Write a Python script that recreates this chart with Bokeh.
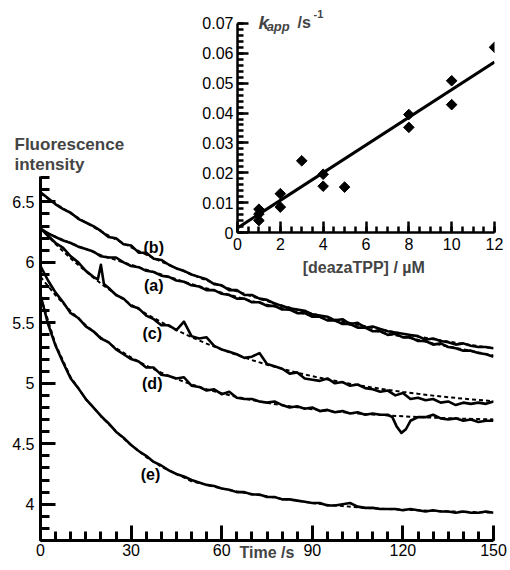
from bokeh.plotting import figure
from bokeh.models import Range1d, FixedTicker, NumeralTickFormatter, Label, GridBox
from bokeh.layouts import column
from bokeh.embed import file_html
from bokeh.resources import INLINE

FONT = "Liberation Sans"

# ---------------- main panel data ----------------
time_s = [0, 2.5, 5, 7.5, 10, 12.5, 15, 17.5, 20, 22.5,
          25, 27.5, 30, 32.5, 35, 37.5, 40, 42.5, 45, 47.5,
          50, 52.5, 55, 57.5, 60, 62.5, 65, 67.5, 70, 72.5,
          75, 77.5, 80, 82.5, 85, 87.5, 90, 92.5, 95, 97.5,
          100, 102.5, 105, 107.5, 110, 112.5, 115, 117.5, 120, 122.5,
          125, 127.5, 130, 132.5, 135, 137.5, 140, 142.5, 145, 147.5,
          150]

trace_a = [6.28, 6.24, 6.21, 6.18, 6.16, 6.13, 6.11, 6.09, 6.05, 6.04,
           6.04, 6.00, 5.97, 5.96, 5.93, 5.92, 5.89, 5.88, 5.85, 5.84,
           5.81, 5.80, 5.77, 5.77, 5.74, 5.73, 5.70, 5.70, 5.67, 5.67,
           5.64, 5.64, 5.61, 5.61, 5.58, 5.58, 5.55, 5.55, 5.52, 5.52,
           5.49, 5.49, 5.46, 5.46, 5.43, 5.43, 5.40, 5.41, 5.38, 5.38,
           5.35, 5.35, 5.32, 5.33, 5.30, 5.29, 5.27, 5.27, 5.25, 5.24,
           5.22]

trace_b = [6.58, 6.53, 6.48, 6.44, 6.41, 6.36, 6.33, 6.30, 6.26, 6.21,
           6.20, 6.15, 6.14, 6.08, 6.08, 6.03, 6.02, 5.98, 5.95, 5.93,
           5.90, 5.88, 5.86, 5.82, 5.81, 5.77, 5.77, 5.73, 5.73, 5.70,
           5.69, 5.66, 5.64, 5.62, 5.61, 5.60, 5.57, 5.56, 5.55, 5.52,
           5.53, 5.49, 5.50, 5.46, 5.47, 5.45, 5.43, 5.42, 5.41, 5.40,
           5.39, 5.36, 5.37, 5.35, 5.34, 5.32, 5.33, 5.31, 5.30, 5.30,
           5.29]

time_c = [0, 2.5, 5, 7.5, 10, 12.5, 15, 17.5, 19, 20,
          21, 22.5, 25, 27.5, 30, 32.5, 35, 37.5, 40, 42.5,
          45, 47.5, 50, 52.5, 55, 57.5, 60, 62.5, 65, 67.5,
          70, 72.5, 75, 77.5, 80, 82.5, 85, 87.5, 90, 92.5,
          95, 97.5, 100, 102.5, 105, 107.5, 110, 112.5, 115, 117.5,
          120, 122.5, 125, 127.5, 130, 132.5, 135, 137.5, 140, 142.5,
          145, 147.5, 150]
trace_c = [6.28, 6.22, 6.16, 6.12, 6.05, 6.00, 5.93, 5.88, 5.86, 5.98,
           5.82, 5.79, 5.73, 5.70, 5.64, 5.62, 5.56, 5.53, 5.48, 5.48,
           5.44, 5.51, 5.39, 5.37, 5.38, 5.31, 5.28, 5.26, 5.24, 5.21,
           5.22, 5.25, 5.16, 5.14, 5.12, 5.08, 5.09, 5.04, 5.03, 5.02,
           5.04, 5.00, 5.01, 4.98, 4.99, 4.96, 4.95, 4.93, 4.94, 4.90,
           4.92, 4.87, 4.88, 4.86, 4.87, 4.84, 4.85, 4.82, 4.84, 4.83,
           4.84, 4.83, 4.85]

time_d = [0, 2.5, 5, 7.5, 10, 12.5, 15, 17.5, 20, 22.5,
          25, 27.5, 30, 32.5, 35, 37.5, 40, 42.5, 45, 47.5,
          50, 52.5, 55, 57.5, 60, 62.5, 65, 67.5, 70, 72.5,
          75, 77.5, 80, 82.5, 85, 87.5, 90, 92.5, 95, 97.5,
          100, 102.5, 105, 107.5, 110, 112.5, 115, 116.5, 118, 119.5,
          121, 122.5, 125, 127.5, 130, 132.5, 135, 137.5, 140, 142.5,
          145, 147.5, 150]
trace_d = [5.97, 5.85, 5.75, 5.67, 5.58, 5.54, 5.47, 5.43, 5.37, 5.34,
           5.28, 5.24, 5.20, 5.18, 5.13, 5.13, 5.07, 5.06, 5.04, 5.05,
           4.98, 4.97, 4.94, 4.95, 4.91, 4.93, 4.88, 4.87, 4.87, 4.85,
           4.84, 4.85, 4.82, 4.80, 4.81, 4.79, 4.80, 4.77, 4.78, 4.76,
           4.77, 4.75, 4.76, 4.74, 4.75, 4.74, 4.74, 4.72, 4.64, 4.59,
           4.62, 4.69, 4.72, 4.72, 4.74, 4.71, 4.70, 4.71, 4.69, 4.70,
           4.68, 4.69, 4.69]

trace_e = [5.73, 5.49, 5.31, 5.17, 5.04, 4.96, 4.87, 4.80, 4.73, 4.67,
           4.60, 4.55, 4.49, 4.44, 4.40, 4.35, 4.32, 4.28, 4.25, 4.23,
           4.20, 4.18, 4.16, 4.15, 4.13, 4.12, 4.10, 4.10, 4.08, 4.08,
           4.06, 4.06, 4.04, 4.04, 4.03, 4.02, 4.01, 4.01, 3.99, 3.99,
           4.00, 4.01, 3.98, 3.97, 3.97, 3.96, 3.96, 3.96, 3.95, 3.96,
           3.95, 3.94, 3.95, 3.94, 3.94, 3.93, 3.94, 3.93, 3.93, 3.94,
           3.93]

fit_time = [0, 5, 10, 15, 20, 25, 30, 35, 40, 45,
            50, 55, 60, 65, 70, 75, 80, 85, 90, 95,
            100, 105, 110, 115, 120, 125, 130, 135, 140, 145,
            150]
fit_a = [6.27, 6.21, 6.16, 6.11, 6.06, 6.02, 5.98, 5.94, 5.90, 5.86,
         5.82, 5.785, 5.75, 5.715, 5.68, 5.65, 5.62, 5.59, 5.56, 5.53,
         5.50, 5.47, 5.44, 5.41, 5.385, 5.36, 5.33, 5.305, 5.28, 5.255,
         5.23]
fit_b = [6.570, 6.485, 6.405, 6.329, 6.257, 6.189, 6.125, 6.064, 6.006, 5.952,
         5.900, 5.851, 5.805, 5.761, 5.719, 5.680, 5.643, 5.608, 5.575, 5.543,
         5.513, 5.485, 5.458, 5.433, 5.409, 5.386, 5.365, 5.345, 5.326, 5.307,
         5.290]
fit_c = [6.280, 6.151, 6.033, 5.925, 5.825, 5.734, 5.651, 5.575, 5.505, 5.441,
         5.382, 5.328, 5.279, 5.234, 5.192, 5.154, 5.120, 5.088, 5.059, 5.032,
         5.008, 4.985, 4.965, 4.946, 4.929, 4.913, 4.898, 4.885, 4.873, 4.862,
         4.852]
fit_d = [5.880, 5.728, 5.596, 5.480, 5.379, 5.291, 5.214, 5.146, 5.088, 5.036,
         4.991, 4.952, 4.917, 4.887, 4.861, 4.838, 4.818, 4.801, 4.786, 4.772,
         4.761, 4.750, 4.742, 4.734, 4.727, 4.721, 4.716, 4.711, 4.707, 4.704,
         4.701]
fit_e = [5.72, 5.32, 5.05, 4.87, 4.73, 4.60, 4.49, 4.39, 4.31, 4.25,
         4.19, 4.16, 4.13, 4.105, 4.085, 4.065, 4.045, 4.03, 4.01, 3.995,
         3.985, 3.975, 3.967, 3.96, 3.955, 3.95, 3.945, 3.94, 3.938, 3.934,
         3.93]

curve_names = ["(b)", "(a)", "(c)", "(d)", "(e)"]
curve_label_t = [37.5, 37.5, 37.0, 37.0, 36.4]
curve_label_v = [6.125, 5.809, 5.414, 4.996, 4.246]

main_x_ticks = [0, 30, 60, 90, 120, 150]
main_y_ticks = [4, 4.5, 5, 5.5, 6, 6.5]

# ---------------- inset data ----------------
conc_uM = [1, 1, 1, 2, 2, 3, 4, 4, 5, 8, 8, 10, 10, 12]
kapp = [0.0078, 0.0062, 0.0040, 0.0130, 0.0085, 0.0240, 0.0195, 0.0155,
        0.0152, 0.0395, 0.0352, 0.0508, 0.0428, 0.0620]
kfit_conc = [0, 12]
kfit_val = [0.0015, 0.0571]

inset_x_ticks = [0, 2, 4, 6, 8, 10, 12]
inset_y_ticks = [0, 0.01, 0.02, 0.03, 0.04, 0.05, 0.06, 0.07]


def style_axis(ax, tick_in, minor_in, width, standoff):
    ax.axis_line_width = width
    ax.axis_line_color = "black"
    ax.major_tick_in = tick_in
    ax.major_tick_out = 0
    ax.minor_tick_in = minor_in
    ax.minor_tick_out = 0
    ax.major_tick_line_width = width
    ax.minor_tick_line_width = width
    ax.major_tick_line_color = "black"
    ax.minor_tick_line_color = "black"
    ax.major_label_text_font = FONT
    ax.major_label_text_font_size = "16px"
    ax.major_label_text_color = "black"
    ax.major_label_standoff = standoff


# ---------------- main figure ----------------
p = figure(width=508, height=568, x_range=Range1d(0, 150), y_range=Range1d(3.7, 6.71),
           output_backend="svg", toolbar_location=None,
           title="Fluorescence\nintensity",
           min_border_left=40, min_border_right=15, min_border_top=176, min_border_bottom=28)
p.outline_line_color = None
p.grid.visible = False
p.background_fill_color = "white"
p.border_fill_color = "white"
p.title.text_font = FONT
p.title.text_font_size = "17px"
p.title.text_font_style = "bold"
p.title.align = "left"
p.title.offset = -26
p.title.standoff = 4
p.title.text_line_height = 1.1

p.xaxis.ticker = FixedTicker(ticks=main_x_ticks, minor_ticks=list(range(0, 151, 5)))
p.yaxis.ticker = FixedTicker(ticks=main_y_ticks, minor_ticks=[round(3.7 + 0.1 * i, 1) for i in range(31)])
p.yaxis.formatter = NumeralTickFormatter(format="0.[0]")
style_axis(p.xaxis[0], 15, 9, 3, 3)
style_axis(p.yaxis[0], 15, 9, 3, 6)
p.xaxis.axis_label = "Time /s"
p.xaxis.axis_label_text_font = FONT
p.xaxis.axis_label_text_font_size = "16px"
p.xaxis.axis_label_text_font_style = "bold"
p.xaxis.axis_label_standoff = -15

for tt, vv in [(time_s, trace_a), (time_s, trace_b), (time_c, trace_c), (time_d, trace_d), (time_s, trace_e)]:
    p.line(tt, vv, line_color="black", line_width=2.6, line_join="round")
for ff in [fit_a, fit_b, fit_c, fit_d, fit_e]:
    p.line(fit_time, ff, line_color="black", line_width=2, line_dash="4 3")

for name, tx, vy in zip(curve_names, curve_label_t, curve_label_v):
    p.add_layout(Label(x=tx, y=vy, text=name, text_font=FONT, text_font_size="16px",
                       text_font_style="bold", text_align="center", text_baseline="middle",
                       text_color="black"))

# ---------------- inset figure ----------------
q = figure(width=330, height=282, x_range=Range1d(0, 12), y_range=Range1d(0, 0.075),
           output_backend="svg", toolbar_location=None,
           min_border_left=59, min_border_right=14, min_border_top=8, min_border_bottom=50)
q.outline_line_color = None
q.grid.visible = False
q.background_fill_alpha = 0
q.border_fill_alpha = 0
q.xaxis.ticker = FixedTicker(ticks=inset_x_ticks, minor_ticks=[0.5 * i for i in range(25)])
q.yaxis.ticker = FixedTicker(ticks=inset_y_ticks, minor_ticks=[round(0.002 * i, 3) for i in range(36)])
q.yaxis.formatter = NumeralTickFormatter(format="0.[00]")
q.yaxis.bounds = (0, 0.07)
style_axis(q.xaxis[0], 11, 6, 2.5, 5)
style_axis(q.yaxis[0], 11, 6, 2.5, 4)
q.xaxis.axis_label = "[deazaTPP]  / µM"
q.xaxis.axis_label_text_font = FONT
q.xaxis.axis_label_text_font_size = "16px"
q.xaxis.axis_label_text_font_style = "bold"
q.xaxis.axis_label_standoff = 6

q.line(kfit_conc, kfit_val, line_color="black", line_width=3)
q.scatter(conc_uM, kapp, marker="square", size=7.5, angle=0.785398, color="black")

q.add_layout(Label(x=0.98, y=0.0703, text="k", text_font=FONT, text_font_size="19px",
                   text_font_style="bold italic", text_baseline="alphabetic"))
q.add_layout(Label(x=1.36, y=0.0689, text="app", text_font=FONT, text_font_size="13px",
                   text_font_style="bold italic", text_baseline="alphabetic"))
q.add_layout(Label(x=2.8, y=0.0703, text="/s", text_font=FONT, text_font_size="16px",
                   text_font_style="bold", text_baseline="alphabetic"))
q.add_layout(Label(x=3.55, y=0.0731, text="-1", text_font=FONT, text_font_size="11px",
                   text_font_style="bold", text_baseline="alphabetic"))

grid = GridBox(children=[(column(p), 0, 0, 2, 2), (column(q), 0, 1, 1, 1)],
               rows=["282px", "286px"], cols=["178px", "330px"], spacing=0)

open("out.html", "w").write(file_html(grid, INLINE))
